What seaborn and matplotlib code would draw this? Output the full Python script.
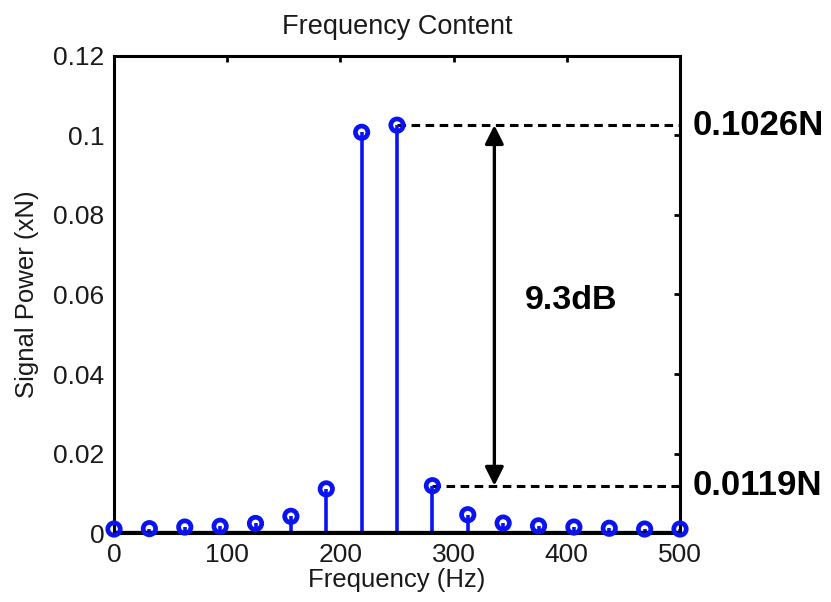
import matplotlib
matplotlib.use("Agg")
import matplotlib.pyplot as plt
import seaborn as sns
import pandas as pd

# ---- data ----
frequency_hz = [0, 31.25, 62.5, 93.75, 125, 156.25, 187.5, 218.75, 250,
                281.25, 312.5, 343.75, 375, 406.25, 437.5, 468.75, 500]
signal_power = [0.0010, 0.0011, 0.0015, 0.0017, 0.0024, 0.0042, 0.0111, 0.1008, 0.1026,
                0.0119, 0.0046, 0.0025, 0.0018, 0.0015, 0.0012, 0.0010, 0.0010]
peak_value = 0.1026
side_value = 0.0119
peak_label = "0.1026N"
side_label = "0.0119N"
ratio_label = "9.3dB"
x_ticks = [0, 100, 200, 300, 400, 500]
y_ticks = [0, 0.02, 0.04, 0.06, 0.08, 0.1, 0.12]
y_tick_labels = ["0", "0.02", "0.04", "0.06", "0.08", "0.1", "0.12"]

df = pd.DataFrame({"freq": frequency_hz, "power": signal_power})

sns.set_style("white")
plt.rcParams["font.family"] = ["Liberation Sans", "DejaVu Sans"]
plt.rcParams["text.color"] = "#1a1a1a"

fig = plt.figure(figsize=(8.31, 6.02), dpi=100)
ax = fig.add_axes([0.1372, 0.1146, 0.6811, 0.7924])

blue = "#0a14f0"
# stems
ax.vlines(df["freq"], 0, df["power"], color=blue, lw=2.6, zorder=2)
# baseline
ax.plot([0, 500], [0, 0], color="black", lw=3.8, zorder=3, solid_capstyle="butt")
# markers
sns.scatterplot(data=df, x="freq", y="power", ax=ax, marker="o", s=80,
                facecolor="none", edgecolor=blue, linewidth=3.4, zorder=4,
                clip_on=False, legend=False)

# dashed reference lines
i_peak = signal_power.index(peak_value)
i_side = signal_power.index(side_value)
ax.plot([frequency_hz[i_peak], 500], [peak_value, peak_value], color="black",
        lw=2.2, dashes=(2.8, 1.8), zorder=1)
ax.plot([frequency_hz[i_side], 500], [side_value, side_value], color="black",
        lw=2.2, dashes=(2.8, 1.8), zorder=1)

# double arrow
ax.annotate("", xy=(336, side_value), xytext=(336, peak_value),
            arrowprops=dict(arrowstyle="<|-|>", color="black", lw=2.4,
                            mutation_scale=28, shrinkA=0, shrinkB=0))
ax.text(404, 0.0585, ratio_label, fontsize=24.5, fontweight="bold",
        ha="center", va="center", color="black")
ax.text(511, peak_value, peak_label, fontsize=25, fontweight="bold",
        ha="left", va="center", clip_on=False, color="black")
ax.text(511, side_value, side_label, fontsize=25, fontweight="bold",
        ha="left", va="center", clip_on=False, color="black")

ax.set_xlim(0, 500)
ax.set_ylim(0, 0.12)
ax.set_xticks(x_ticks)
ax.set_yticks(y_ticks)
ax.set_yticklabels(y_tick_labels)
ax.tick_params(direction="in", length=4, width=2, top=True, right=True,
               labelsize=19, colors="black", labelcolor="#1a1a1a", pad=7)
for sp in ax.spines.values():
    sp.set_linewidth(2.2)
    sp.set_color("black")

ax.set_title("Frequency Content", fontsize=19.5, pad=16, color="#1a1a1a")
ax.set_xlabel("Frequency (Hz)", fontsize=18.5, labelpad=1, color="#1a1a1a")
ax.set_ylabel("Signal Power (xN)", fontsize=18.5, labelpad=10, color="#1a1a1a")

fig.savefig("out.png", dpi=100)
